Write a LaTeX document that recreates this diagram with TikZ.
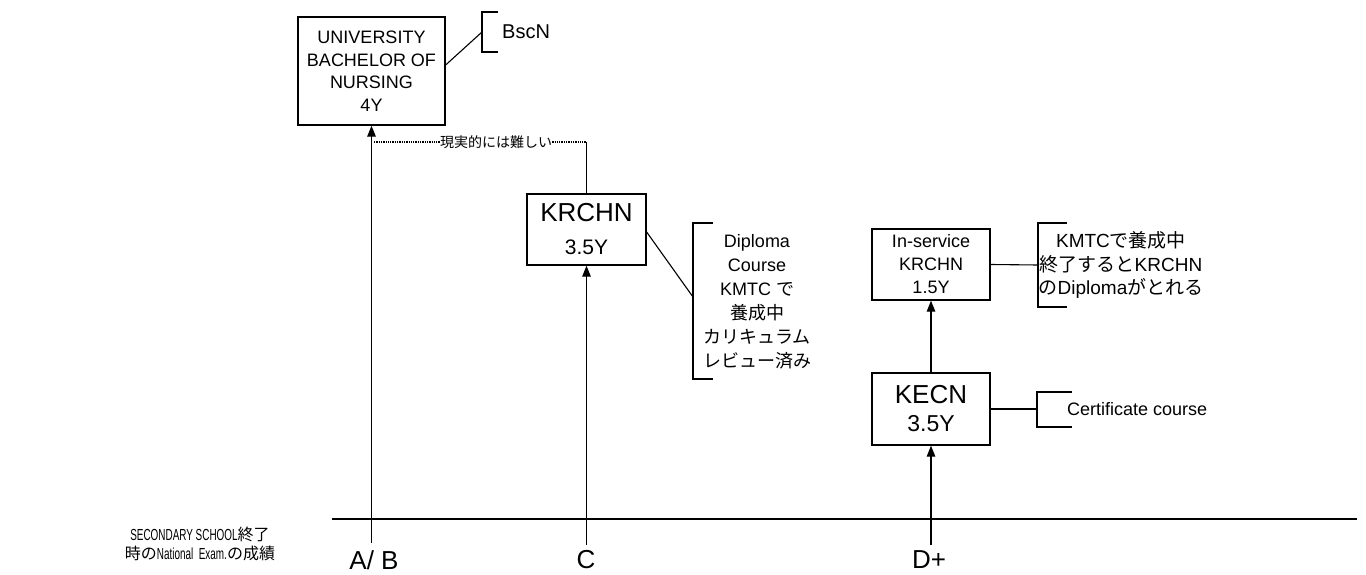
\documentclass[tikz,border=0pt]{standalone}
\usepackage{fontspec}
\usepackage{graphicx}
\setmainfont{Liberation Sans}
\newfontfamily\cjk{Noto Sans CJK JP}
\usetikzlibrary{arrows.meta,calc}
\newcommand{\fs}[2]{\fontsize{#1}{#2}\selectfont}
\newcommand{\nar}[1]{\scalebox{0.62}[1]{#1}}
\begin{document}
\begin{tikzpicture}[x=1pt,y=-1pt,
  box/.style={draw,line width=1.3pt,inner sep=0pt,align=center},
  lbl/.style={inner sep=0pt,align=center},
  conn/.style={line width=1.1pt},
  arr/.style={line width=1.2pt,-{Triangle[length=11pt,width=8.5pt]}},
  brk/.style={line width=1.2pt},
  dots/.style={line width=1.1pt,dash pattern=on 1.3pt off 1pt}]
\useasboundingbox (0,0) rectangle (1366,575);

% boxes
\node[box,minimum width=147pt,minimum height=108pt,font=\fs{18}{22.5}] (uni) at (371.5,71)
  {UNIVERSITY\\BACHELOR OF\\NURSING\\4Y};
\node[box,minimum width=119pt,minimum height=71pt,font=\fs{26}{33}] (krchn) at (586.5,229.5)
  {KRCHN\\{\fs{21}{33}3.5Y}};
\node[box,minimum width=118pt,minimum height=71pt,font=\fs{18}{23}] (insv) at (931,264.5)
  {In-service\\KRCHN\\1.5Y};
\node[box,minimum width=118pt,minimum height=72pt,font=\fs{26}{28}] (kecn) at (931,409)
  {KECN\\{\fs{23}{28}3.5Y}};

% baseline
\coordinate (bl) at (332,519);
\coordinate (br) at (1357,519);
\draw[line width=1.4pt] (bl) -- (br);

% bottom ends of the vertical lines
\coordinate (ab) at (371.5,543);
\coordinate (cb) at (586.5,545);
\coordinate (db) at (931,545);
\draw[arr] (ab) -- (uni.south);
\draw[arr] (cb) -- (krchn.south);
\draw[arr] (db) -- (kecn.south);
\draw[arr] (kecn.north) -- (insv.south);

% grade labels
\node[lbl,font=\fs{26}{30}] (labab) at (374,560) {A/ B};
\node[lbl,font=\fs{26}{30}] (labc) at (586,560) {C};
\node[lbl,font=\fs{26}{30}] (labd) at (929,560) {D+};
\node[lbl,font=\fs{16}{18.5}] (sec) at (200,544)
  {\nar{SECONDARY SCHOOL}{\cjk 終了}\\{\cjk 時の}\nar{National\ \ Exam.}{\cjk の成績}};

% dotted "difficult" link
\coordinate (dl) at (374,142);
\coordinate (dc) at (586.5,142);
\node[lbl,font=\fs{14}{16}\cjk] (hard) at (496,142) {現実的には難しい};
\draw[dots] (dl) -- (hard.west);
\draw[dots] (hard.east) -- (dc);
\draw[conn] (dc) -- (krchn.north);

% BscN bracket
\draw[brk] (498,12) -- (482,12) -- (482,52) -- (498,52);
\coordinate (bscb) at (482,32);
\node[lbl,font=\fs{20}{22},anchor=west] (bscn) at (502,32) {BscN};
\draw[conn] ([yshift=6pt]uni.east) -- (bscb);

% Diploma bracket
\draw[brk] (713,223) -- (693,223) -- (693,379) -- (713,379);
\coordinate (dipb) at (693,297);
\node[lbl,font=\fs{18}{24}] (dip) at (757,302)
  {Diploma\\Course\\KMTC {\cjk で}\\{\cjk 養成中}\\{\cjk カリキュラム}\\{\cjk レビュー済み}};
\draw[conn] ([yshift=-2.5pt]krchn.east) -- (dipb);

% In-service bracket
\draw[brk] (1067,223) -- (1038,223) -- (1038,307) -- (1067,307);
\coordinate (insb) at (1038,265);
\node[lbl,font=\fs{19}{23.5}] (kmtc) at (1121,265)
  {KMTC{\cjk で養成中}\\{\cjk 終了すると}KRCHN\\{\cjk の}Diploma{\cjk がとれる}};
\draw[conn] (insv.east) -- (insb);

% KECN bracket
\draw[brk] (1072,392) -- (1037,392) -- (1037,427) -- (1072,427);
\coordinate (kecb) at (1037,409);
\node[lbl,font=\fs{18}{22},anchor=west] (cert) at (1067,409) {Certificate course};
\draw[conn] (kecn.east) -- (kecb);
\end{tikzpicture}
\end{document}
